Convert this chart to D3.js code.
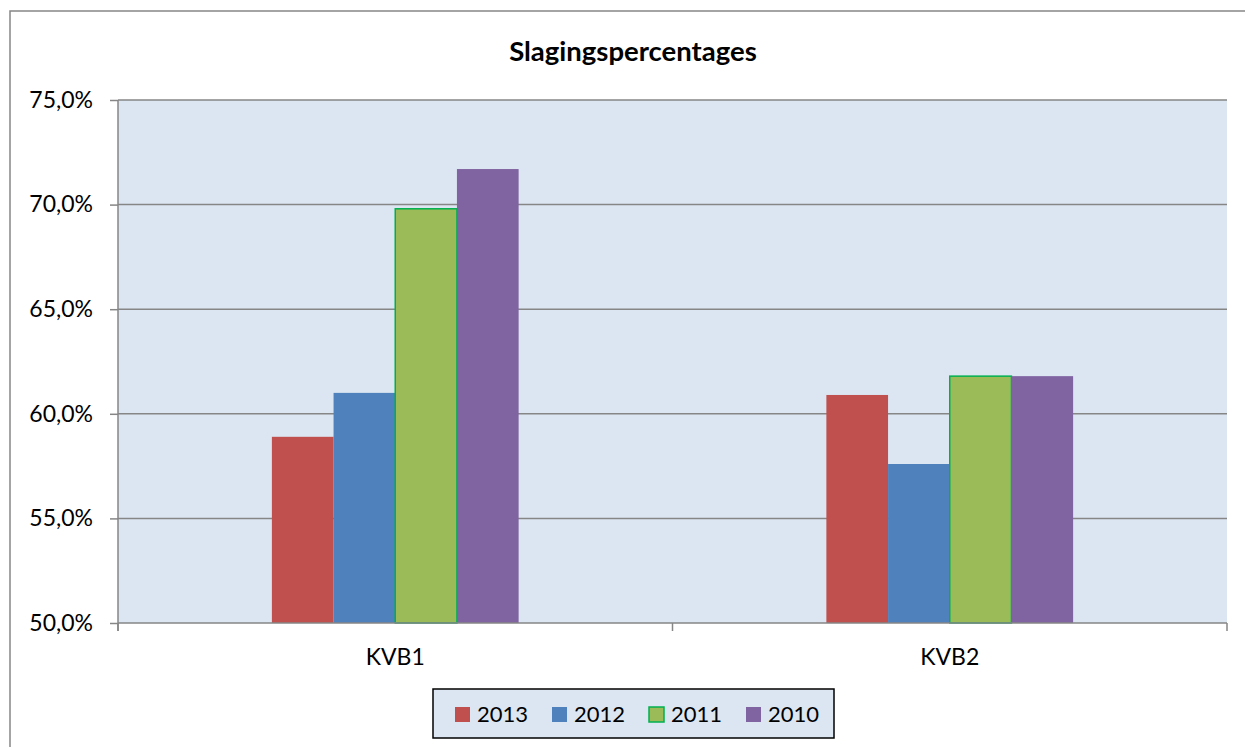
<!DOCTYPE html>
<html>
<head>
<meta charset="utf-8">
<script src="https://cdn.jsdelivr.net/npm/d3@7"></script>
<style>
  body { margin: 0; background: #fff; }
  svg { display: block; font-family: Lato, "Open Sans", sans-serif; }
</style>
</head>
<body>
<svg id="chart" width="1245" height="747"></svg>
<script>
// chart values
const categories = ["KVB1", "KVB2"];
const years = ["2013", "2012", "2011", "2010"];
const kvb1 = [58.9, 61.0, 69.8, 71.7];
const kvb2 = [60.9, 57.6, 61.8, 61.8];
const yTicks = [50, 55, 60, 65, 70, 75];

const colors = { "2013": "#c0504d", "2012": "#4f81bd", "2011": "#9bbb59", "2010": "#8064a2" };

const rows = categories.map((c, i) => ({
  cat: c,
  values: years.map((y, j) => ({ year: y, value: [kvb1, kvb2][i][j] }))
}));

const svg = d3.select("#chart");

// outer chart frame (runs off the right and bottom of the picture)
svg.append("rect")
  .attr("x", 10).attr("y", 11)
  .attr("width", 1260).attr("height", 760)
  .attr("fill", "#fff")
  .attr("stroke", "#868686").attr("stroke-width", 1.5);

const plot = { left: 118, right: 1227, top: 100, bottom: 623 };

const y = d3.scaleLinear().domain([50, 75]).range([plot.bottom, plot.top]);
const x0 = d3.scaleBand().domain(categories).range([plot.left, plot.right]).padding(0);
const groupW = x0.bandwidth() * 0.445;
const x1 = d3.scaleBand().domain(years).range([0, groupW]).padding(0);

// plot background
svg.append("rect")
  .attr("x", plot.left).attr("y", plot.top)
  .attr("width", plot.right - plot.left).attr("height", plot.bottom - plot.top)
  .attr("fill", "#dce6f2");

// gridlines
svg.append("g")
  .selectAll("line")
  .data(yTicks.slice(1))
  .join("line")
  .attr("x1", plot.left).attr("x2", plot.right)
  .attr("y1", d => y(d)).attr("y2", d => y(d))
  .attr("stroke", "#868686").attr("stroke-width", 1.5);

// bars
const groups = svg.append("g")
  .selectAll("g")
  .data(rows)
  .join("g")
  .attr("transform", d => `translate(${x0(d.cat) + (x0.bandwidth() - groupW) / 2},0)`);

groups.selectAll("rect")
  .data(d => d.values)
  .join("rect")
  .attr("x", d => x1(d.year))
  .attr("y", d => y(d.value))
  .attr("width", x1.bandwidth())
  .attr("height", d => y(50) - y(d.value))
  .attr("fill", d => colors[d.year])
  .attr("stroke", d => d.year === "2011" ? "#00b050" : "none")
  .attr("stroke-width", 1.5);

// y axis
const yAxis = svg.append("g")
  .attr("transform", `translate(${plot.left},0)`)
  .call(d3.axisLeft(y)
    .tickValues(yTicks)
    .tickSize(8)
    .tickPadding(17)
    .tickFormat(d => d3.format(".1f")(d).replace(".", ",") + "%"));
yAxis.select(".domain").attr("stroke", "#868686").attr("stroke-width", 1.5)
  .attr("d", `M0,${plot.top}V${plot.bottom + 8}`);
yAxis.selectAll(".tick line").attr("stroke", "#868686").attr("stroke-width", 1.5);
yAxis.selectAll(".tick text").attr("font-size", 23).attr("fill", "#000")
  .attr("font-family", "Lato, sans-serif");

// x axis
const xAxis = svg.append("g");
xAxis.append("line")
  .attr("x1", plot.left).attr("x2", plot.right)
  .attr("y1", plot.bottom).attr("y2", plot.bottom)
  .attr("stroke", "#868686").attr("stroke-width", 1.5);
xAxis.selectAll(".xtick")
  .data(categories.map(c => x0(c)).concat([x0.range()[1]]))
  .join("line")
  .attr("class", "xtick")
  .attr("x1", d => d).attr("x2", d => d)
  .attr("y1", plot.bottom).attr("y2", plot.bottom + 8)
  .attr("stroke", "#868686").attr("stroke-width", 1.5);
xAxis.selectAll("text")
  .data(categories)
  .join("text")
  .attr("x", d => x0(d) + x0.bandwidth() / 2)
  .attr("y", 665)
  .attr("text-anchor", "middle")
  .attr("font-size", 23)
  .text(d => d);

// title
svg.append("text")
  .attr("x", 633)
  .attr("y", 61)
  .attr("text-anchor", "middle")
  .attr("font-size", 27.5)
  .attr("font-weight", "bold")
  .text("Slagingspercentages");

// legend
const legend = svg.append("g").attr("transform", "translate(433,689)");
legend.append("rect")
  .attr("width", 401).attr("height", 49)
  .attr("fill", "#dce6f2")
  .attr("stroke", "#000").attr("stroke-width", 1.5);
const items = legend.selectAll("g")
  .data(years)
  .join("g")
  .attr("transform", (d, i) => `translate(${22 + i * 97},0)`);
items.append("rect")
  .attr("x", 0).attr("y", 18)
  .attr("width", 15).attr("height", 15)
  .attr("fill", d => colors[d])
  .attr("stroke", d => d === "2011" ? "#00b050" : "none")
  .attr("stroke-width", 1.5);
items.append("text")
  .attr("x", 22).attr("y", 33)
  .attr("font-size", 22)
  .text(d => d);
</script>
</body>
</html>
